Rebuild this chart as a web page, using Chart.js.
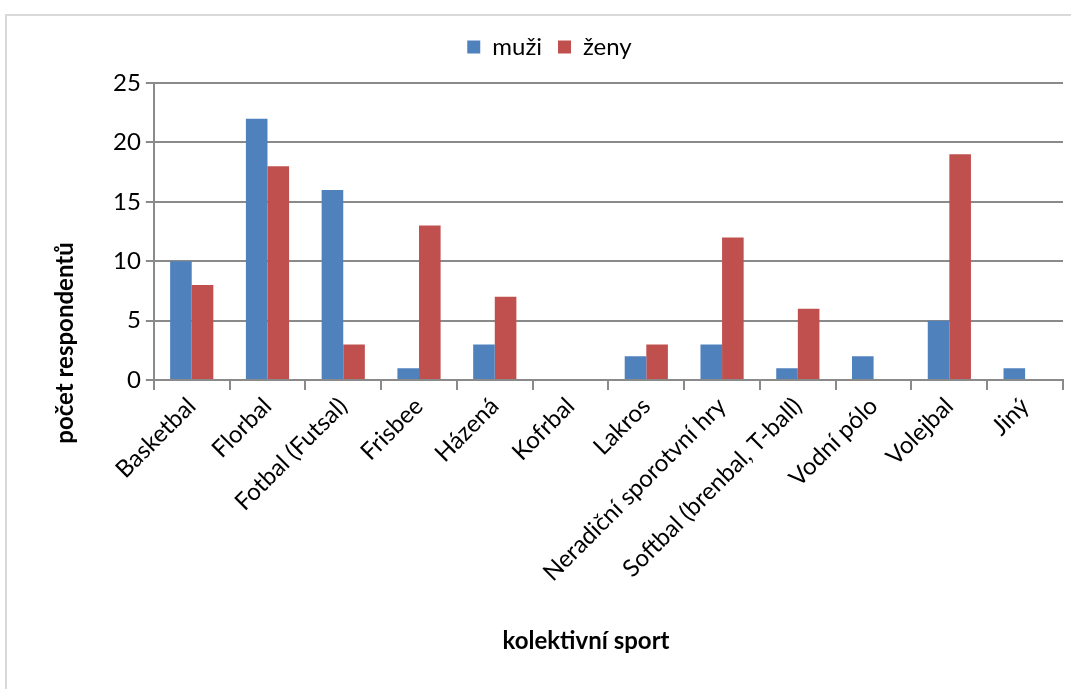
<!DOCTYPE html>
<html>
<head>
<meta charset="utf-8">
<script src="https://cdn.jsdelivr.net/npm/chart.js@4"></script>
<style>
  html, body { margin: 0; padding: 0; background: #fff; }
  #frame { position: absolute; left: 5px; top: 14px; width: 1100px; height: 700px;
           border: 2px solid #d9d9d9; box-sizing: border-box; }
  #wrap { position: absolute; left: 0; top: 0; width: 1071px; height: 689px; }
</style>
</head>
<body>
<div id="frame"></div>
<div id="wrap"><canvas id="myChart" width="1071" height="689"></canvas></div>
<script>
var sports = ['Basketbal', 'Florbal', 'Fotbal (Futsal)', 'Frisbee', 'Házená', 'Kofrbal', 'Lakros',
    'Neradiční sporotvní hry', 'Softbal (brenbal, T-ball)', 'Vodní pólo', 'Volejbal', 'Jiný'];
var muzi = [10, 22, 16, 1, 3, 0, 2, 3, 1, 2, 5, 1];
var zeny = [8, 18, 3, 13, 7, 0, 3, 12, 6, 0, 19, 0];
var xTitle = 'kolektivní sport';
var yTitle = 'počet respondentů';

var FONT = 'Lato, "Open Sans", sans-serif';
var gridColor = '#8a8a8a';

// axis titles are centred on the whole chart like in Excel, not on the plot
var titlesPlugin = {
    id: 'titles',
    afterDraw: function(chart) {
        var c = chart.ctx;
        c.save();
        c.fillStyle = '#000';
        c.font = 'bold 24px ' + FONT;
        c.textAlign = 'center';
        c.textBaseline = 'middle';
        c.fillText(xTitle, 586, 641);
        c.translate(65, 343);
        c.rotate(-Math.PI / 2);
        c.fillText(yTitle, 0, 0);
        c.restore();
    }
};

// more room under the legend, and legend centred on the whole chart
var legendGap = {
    id: 'legendGap',
    beforeInit: function(chart) {
        var fit = chart.legend.fit;
        chart.legend.fit = function() {
            fit.bind(chart.legend)();
            this.height += 14;
        };
    },
    afterLayout: function(chart) {
        chart.legend.left -= 36;
        chart.legend.right -= 36;
    }
};

var dataObj = {
    type: 'bar',
    data: {
        labels: sports,
        datasets: [{
            label: 'muži',
            data: muzi,
            backgroundColor: '#4f81bd',
            categoryPercentage: 0.57,
            barPercentage: 1
        }, {
            label: 'ženy',
            data: zeny,
            backgroundColor: '#c0504d',
            categoryPercentage: 0.57,
            barPercentage: 1
        }]
    },
    options: {
        responsive: false,
        animation: false,
        layout: { padding: { left: 108, right: 8, top: 19, bottom: 100 } },
        plugins: {
            legend: {
                position: 'top',
                labels: {
                    font: { family: FONT, size: 24 },
                    color: '#000',
                    boxWidth: 13,
                    boxHeight: 13,
                    padding: 16
                }
            },
            tooltip: { enabled: false }
        },
        scales: {
            x: {
                grid: { display: true, offset: true, drawOnChartArea: false, drawTicks: true,
                        tickLength: 10, color: gridColor, lineWidth: 2 },
                border: { color: gridColor, width: 2 },
                ticks: { color: '#000', font: { family: FONT, size: 24 },
                         maxRotation: 45, minRotation: 45, padding: 2, autoSkip: false }
            },
            y: {
                min: 0, max: 25,
                grid: { color: gridColor, lineWidth: 2, drawTicks: true, tickLength: 8 },
                border: { color: gridColor, width: 2 },
                ticks: { stepSize: 5, color: '#000', font: { family: FONT, size: 24 }, padding: 5 }
            }
        }
    },
    plugins: [titlesPlugin, legendGap]
};
var ctx = document.getElementById('myChart').getContext('2d');
window.myBar = new Chart(ctx, dataObj);
</script>
</body>
</html>
